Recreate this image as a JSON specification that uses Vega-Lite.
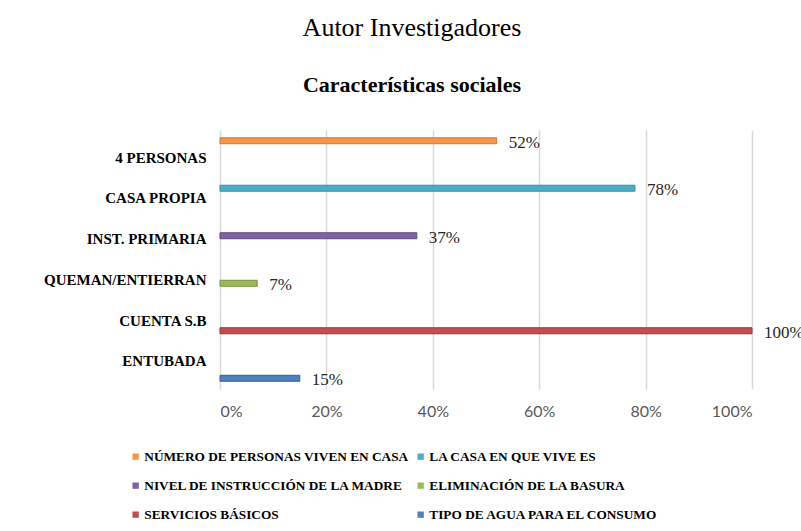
{
  "$schema": "https://vega.github.io/schema/vega-lite/v6.json",
  "width": 532,
  "height": 259,
  "autosize": {"type": "none"},
  "padding": {"left": 220, "top": 130, "right": 49, "bottom": 142},
  "background": "white",
  "title": {
    "text": "Autor Investigadores",
    "subtitle": "Características sociales",
    "anchor": "middle",
    "frame": "group",
    "dx": -74,
    "offset": 34,
    "font": "Liberation Serif",
    "fontSize": 26,
    "fontWeight": "normal",
    "color": "#000000",
    "subtitleFont": "Liberation Serif",
    "subtitleFontSize": 22,
    "subtitleFontWeight": "bold",
    "subtitleColor": "#000000",
    "subtitlePadding": 34
  },
  "data": {
    "values": [
      {"categoria": "4 PERSONAS", "serie": "NÚMERO DE PERSONAS VIVEN EN CASA", "valor": 0.52},
      {"categoria": "CASA PROPIA", "serie": "LA CASA EN QUE VIVE ES", "valor": 0.78},
      {"categoria": "INST. PRIMARIA", "serie": "NIVEL DE INSTRUCCIÓN DE LA MADRE", "valor": 0.37},
      {"categoria": "QUEMAN/ENTIERRAN", "serie": "ELIMINACIÓN DE LA BASURA", "valor": 0.07},
      {"categoria": "CUENTA S.B", "serie": "SERVICIOS BÁSICOS", "valor": 1.0},
      {"categoria": "ENTUBADA", "serie": "TIPO DE AGUA PARA EL CONSUMO", "valor": 0.15}
    ]
  },
  "encoding": {
    "y": {
      "field": "categoria",
      "type": "nominal",
      "sort": ["4 PERSONAS", "CASA PROPIA", "INST. PRIMARIA", "QUEMAN/ENTIERRAN", "CUENTA S.B", "ENTUBADA"],
      "scale": {"paddingInner": 0, "paddingOuter": 0.18},
      "axis": {
        "title": null,
        "ticks": false,
        "domain": false,
        "labelFont": "Liberation Serif",
        "labelFontSize": 15,
        "labelFontWeight": "bold",
        "labelColor": "#000000",
        "labelPadding": 14
      }
    },
    "yOffset": {
      "field": "serie",
      "type": "nominal",
      "sort": ["NÚMERO DE PERSONAS VIVEN EN CASA", "LA CASA EN QUE VIVE ES", "NIVEL DE INSTRUCCIÓN DE LA MADRE", "ELIMINACIÓN DE LA BASURA", "SERVICIOS BÁSICOS", "TIPO DE AGUA PARA EL CONSUMO"],
      "scale": {"paddingInner": 0.12, "paddingOuter": 0.06}
    },
    "x": {
      "field": "valor",
      "type": "quantitative",
      "scale": {"domain": [0, 1], "nice": false},
      "axis": {
        "title": null,
        "values": [0, 0.2, 0.4, 0.6, 0.8, 1],
        "format": ".0%",
        "ticks": false,
        "domain": false,
        "grid": true,
        "gridColor": "#d9d9d9",
        "gridWidth": 1.5,
        "labelFont": "Lato",
        "labelFontSize": 16,
        "labelColor": "#595959",
        "labelPadding": 14
      }
    }
  },
  "layer": [
    {
      "mark": {"type": "bar", "strokeWidth": 1},
      "encoding": {
        "color": {
          "field": "serie",
          "type": "nominal",
          "sort": ["NÚMERO DE PERSONAS VIVEN EN CASA", "LA CASA EN QUE VIVE ES", "NIVEL DE INSTRUCCIÓN DE LA MADRE", "ELIMINACIÓN DE LA BASURA", "SERVICIOS BÁSICOS", "TIPO DE AGUA PARA EL CONSUMO"],
          "scale": {
            "domain": ["NÚMERO DE PERSONAS VIVEN EN CASA", "LA CASA EN QUE VIVE ES", "NIVEL DE INSTRUCCIÓN DE LA MADRE", "ELIMINACIÓN DE LA BASURA", "SERVICIOS BÁSICOS", "TIPO DE AGUA PARA EL CONSUMO"],
            "range": ["#F79646", "#4BACC6", "#8064A2", "#9BBB59", "#C0504D", "#4F81BD"]
          },
          "legend": {
            "title": null,
            "orient": "none",
            "legendX": -91,
            "legendY": 320,
            "direction": "horizontal",
            "columns": 2,
            "columnPadding": 5,
            "rowPadding": 15,
            "symbolType": "square",
            "symbolSize": 40,
            "symbolStrokeWidth": 0,
            "labelOffset": 2,
            "labelFont": "Liberation Serif",
            "labelFontSize": 13.3,
            "labelFontWeight": "bold",
            "labelColor": "#000000",
            "labelLimit": 400
          }
        },
        "stroke": {
          "field": "serie",
          "type": "nominal",
          "scale": {
            "domain": ["NÚMERO DE PERSONAS VIVEN EN CASA", "LA CASA EN QUE VIVE ES", "NIVEL DE INSTRUCCIÓN DE LA MADRE", "ELIMINACIÓN DE LA BASURA", "SERVICIOS BÁSICOS", "TIPO DE AGUA PARA EL CONSUMO"],
            "range": ["#d9782f", "#2f95b0", "#60497a", "#77933c", "#943634", "#376092"]
          },
          "legend": null
        }
      }
    },
    {
      "mark": {
        "type": "text",
        "align": "left",
        "baseline": "middle",
        "dx": 12,
        "dy": 2,
        "font": "Liberation Serif",
        "fontSize": 17,
        "color": "#262626"
      },
      "encoding": {
        "text": {"field": "valor", "type": "quantitative", "format": ".0%"}
      }
    }
  ],
  "config": {
    "view": {"stroke": null}
  }
}
